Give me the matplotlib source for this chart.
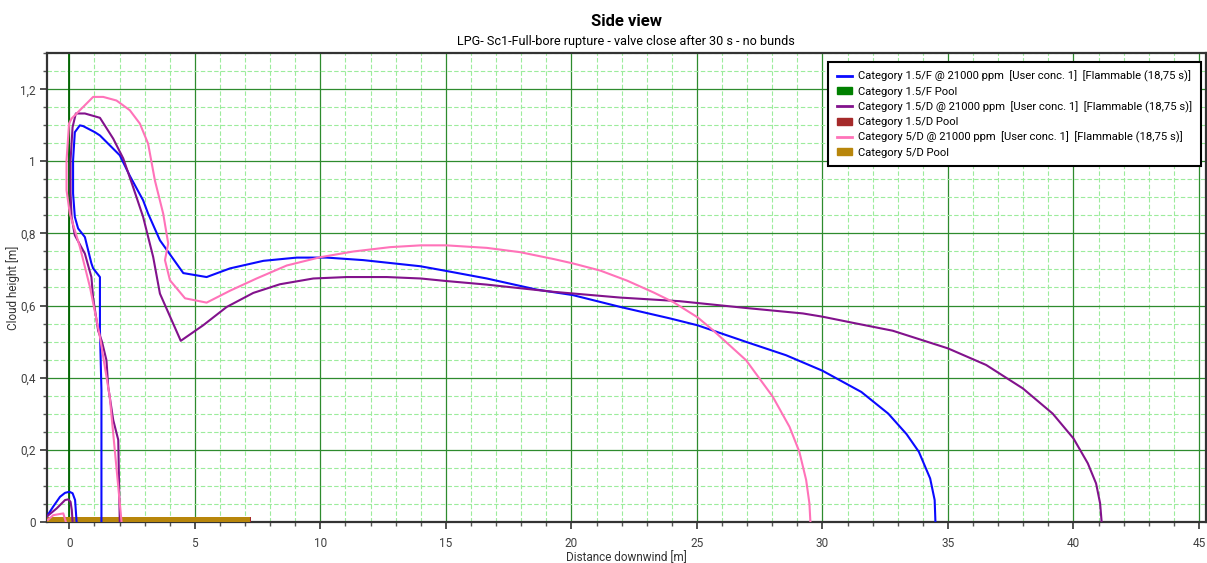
import matplotlib
matplotlib.use("Agg")
import matplotlib.pyplot as plt
from matplotlib.lines import Line2D
from matplotlib.patches import Patch
from matplotlib.ticker import MultipleLocator

plt.rcParams["font.family"] = ["Roboto", "DejaVu Sans"]

# Category 1.5/F cloud outline
f15_x = [1.28, 1.28, 1.22, 1.22, 0.95, 0.88, 0.62, 0.35, 0.22, 0.15, 0.15, 0.22, 0.42, 0.55,
         1.02, 1.22, 2.01, 2.41, 2.94, 3.14, 3.61, 4.54, 5.47, 6.40, 7.73, 9.06, 10.25, 11.71,
         13.98, 15.01, 16.63, 18.63, 20.05, 21.95, 23.94, 25.03, 26.96, 28.55, 30.0, 31.55,
         32.62, 33.35, 33.84, 34.29, 34.47, 34.5]
f15_y = [0, 0.365, 0.532, 0.679, 0.703, 0.717, 0.79, 0.814, 0.846, 0.911, 1.003, 1.081, 1.1,
         1.098, 1.081, 1.072, 1.017, 0.96, 0.892, 0.855, 0.781, 0.69, 0.679, 0.703, 0.724,
         0.733, 0.733, 0.726, 0.709, 0.696, 0.675, 0.644, 0.629, 0.596, 0.564, 0.545, 0.499,
         0.462, 0.419, 0.36, 0.3, 0.243, 0.194, 0.12, 0.06, 0]
f15_bump_x = [-0.9, -0.64, -0.37, -0.17, 0, 0.13, 0.23, 0.29]
f15_bump_y = [0.014, 0.042, 0.069, 0.08, 0.083, 0.079, 0.06, 0.0]

# Category 1.5/D cloud outline
d15_x = [2.01, 1.95, 1.75, 1.55, 1.48, 1.3, 1.15, 0.95, 0.88, 0.62, 0.22, 0.09, 0.05, 0.05,
         0.13, 0.26, 0.62, 1.22, 1.75, 2.15, 2.54, 2.94, 3.34, 3.61, 4.44, 5.33, 6.27, 7.33,
         8.39, 9.72, 11.05, 12.65, 14.0, 15.01, 16.63, 19.29, 21.95, 24.31, 26.97, 29.22,
         30.0, 31.21, 32.8, 35.0, 36.52, 37.98, 39.17, 40.0, 40.57, 40.9, 41.06, 41.12]
d15_y = [0, 0.227, 0.282, 0.374, 0.448, 0.5, 0.53, 0.62, 0.679, 0.744, 0.795, 0.846, 0.911,
         1.003, 1.095, 1.133, 1.133, 1.121, 1.063, 1.008, 0.929, 0.846, 0.735, 0.633, 0.502,
         0.545, 0.596, 0.635, 0.659, 0.675, 0.679, 0.679, 0.675, 0.668, 0.658, 0.638, 0.622,
         0.612, 0.593, 0.578, 0.569, 0.552, 0.53, 0.481, 0.435, 0.37, 0.3, 0.231, 0.162,
         0.106, 0.051, 0]
d15_bump_x = [-0.9, -0.5, -0.17, -0.04, 0.05, 0.1, 0.13]
d15_bump_y = [0.014, 0.037, 0.06, 0.062, 0.055, 0.032, 0.0]

# Category 5/D cloud outline
d5_x = [2.08, 1.95, 1.61, 1.22, 0.82, 0.42, 0.02, -0.11, -0.11, -0.01, 0.09, 0.55, 0.95, 1.35,
        1.88, 2.41, 2.81, 3.14, 3.41, 3.74, 3.94, 3.81, 4.01, 4.61, 5.47, 6.40, 7.46, 8.66,
        9.99, 11.32, 12.78, 14.0, 15.01, 16.63, 17.96, 19.29, 20.05, 21.15, 22.22, 23.28,
        24.07, 25.03, 25.63, 26.96, 28.02, 28.69, 29.08, 29.35, 29.48, 29.52]
d5_y = [0, 0.097, 0.347, 0.513, 0.652, 0.763, 0.855, 0.92, 1.003, 1.105, 1.119, 1.151, 1.179,
        1.179, 1.169, 1.142, 1.105, 1.049, 0.947, 0.855, 0.772, 0.726, 0.67, 0.62, 0.608,
        0.641, 0.675, 0.711, 0.734, 0.75, 0.762, 0.767, 0.767, 0.76, 0.748, 0.729, 0.717,
        0.697, 0.669, 0.636, 0.609, 0.567, 0.532, 0.448, 0.347, 0.263, 0.194, 0.116, 0.051, 0]
d5_bump_x = [-0.85, -0.64, -0.24, -0.14]
d5_bump_y = [0.005, 0.018, 0.023, 0.0]

# pool extents [x0, x1]
pool_f15 = [-1.0, 7.1]
pool_d15 = [-1.0, 7.25]
pool_d5 = [-1.0, 7.19]
pool_h = 0.012

labels = [
    "Category 1.5/F @ 21000 ppm  [User conc. 1]  [Flammable (18,75 s)]",
    "Category 1.5/F Pool",
    "Category 1.5/D @ 21000 ppm  [User conc. 1]  [Flammable (18,75 s)]",
    "Category 1.5/D Pool",
    "Category 5/D @ 21000 ppm  [User conc. 1]  [Flammable (18,75 s)]",
    "Category 5/D Pool",
]
x_ticks = [0, 5, 10, 15, 20, 25, 30, 35, 40, 45]
y_ticks = [0, 0.2, 0.4, 0.6, 0.8, 1.0, 1.2]
y_labels = ["0", "0,2", "0,4", "0,6", "0,8", "1", "1,2"]

c_f15 = "#0a0aff"
c_d15 = "#82128c"
c_d5 = "#ff73b9"
c_pf15 = "#008000"
c_pd15 = "#a52a2a"
c_pd5 = "#b8860b"

fig = plt.figure(figsize=(12.07, 5.63), dpi=100)
ax = fig.add_axes([0.0387, 0.0734, 0.9603, 0.8319])

for (x0, x1), c in [(pool_f15, c_pf15), (pool_d15, c_pd15), (pool_d5, c_pd5)]:
    ax.fill_between([x0, x1], 0, pool_h, color=c, lw=0, zorder=3)

ax.plot(f15_x, f15_y, color=c_f15, lw=1.5, zorder=4)
ax.plot(f15_bump_x, f15_bump_y, color=c_f15, lw=1.5, zorder=4)
ax.plot(d15_x, d15_y, color=c_d15, lw=1.5, zorder=4)
ax.plot(d15_bump_x, d15_bump_y, color=c_d15, lw=1.5, zorder=4)
ax.plot(d5_x, d5_y, color=c_d5, lw=1.5, zorder=4)
ax.plot(d5_bump_x, d5_bump_y, color=c_d5, lw=1.5, zorder=4)

ax.set_xlim(-0.9, 45.27)
ax.set_ylim(0, 1.3)
ax.set_xticks(x_ticks)
ax.set_xticklabels([str(v) for v in x_ticks])
ax.set_yticks(y_ticks)
ax.set_yticklabels(y_labels)
ax.xaxis.set_minor_locator(MultipleLocator(1))
ax.yaxis.set_minor_locator(MultipleLocator(0.05))

ax.grid(which="minor", color="#9cec9c", lw=0.8, ls=(0, (4, 2)), zorder=0)
ax.grid(which="major", color="#2e8b2e", lw=0.9, zorder=1)
ax.axvline(0, color="#006400", lw=1.3, zorder=1)
ax.set_axisbelow(True)

for s in ax.spines.values():
    s.set_color("#333333")
    s.set_linewidth(1.6)
ax.tick_params(which="major", length=5, width=1.2, color="#333333", labelsize=8.5,
               labelcolor="#404040", pad=3)
ax.tick_params(which="minor", length=3, width=1, color="#555555")
ax.tick_params(axis="x", which="major", pad=6)

ax.set_xlabel("Distance downwind [m]", fontsize=8.5, color="#333333", labelpad=1)
ax.set_ylabel("Cloud height [m]", fontsize=8.5, color="#333333", labelpad=0)

ax.text(0.5, 1.058, "Side view", transform=ax.transAxes, ha="center", va="baseline",
        fontsize=12, fontweight="bold")
ax.text(0.5, 1.018, "LPG- Sc1-Full-bore rupture - valve close after 30 s - no bunds",
        transform=ax.transAxes, ha="center", va="baseline", fontsize=9.1)

handles = [
    Line2D([], [], color=c_f15, lw=2),
    Patch(color=c_pf15),
    Line2D([], [], color=c_d15, lw=2),
    Patch(color=c_pd15),
    Line2D([], [], color=c_d5, lw=2),
    Patch(color=c_pd5),
]
leg = ax.legend(handles, labels, loc="upper right", bbox_to_anchor=(0.9955, 0.981),
                fontsize=8.1, frameon=True, fancybox=False, framealpha=1,
                edgecolor="black", handlelength=1.4, handleheight=0.6,
                labelspacing=0.4, handletextpad=0.5, borderpad=0.75, borderaxespad=0)
leg.get_frame().set_linewidth(1.5)

fig.savefig("out.png", dpi=100)
